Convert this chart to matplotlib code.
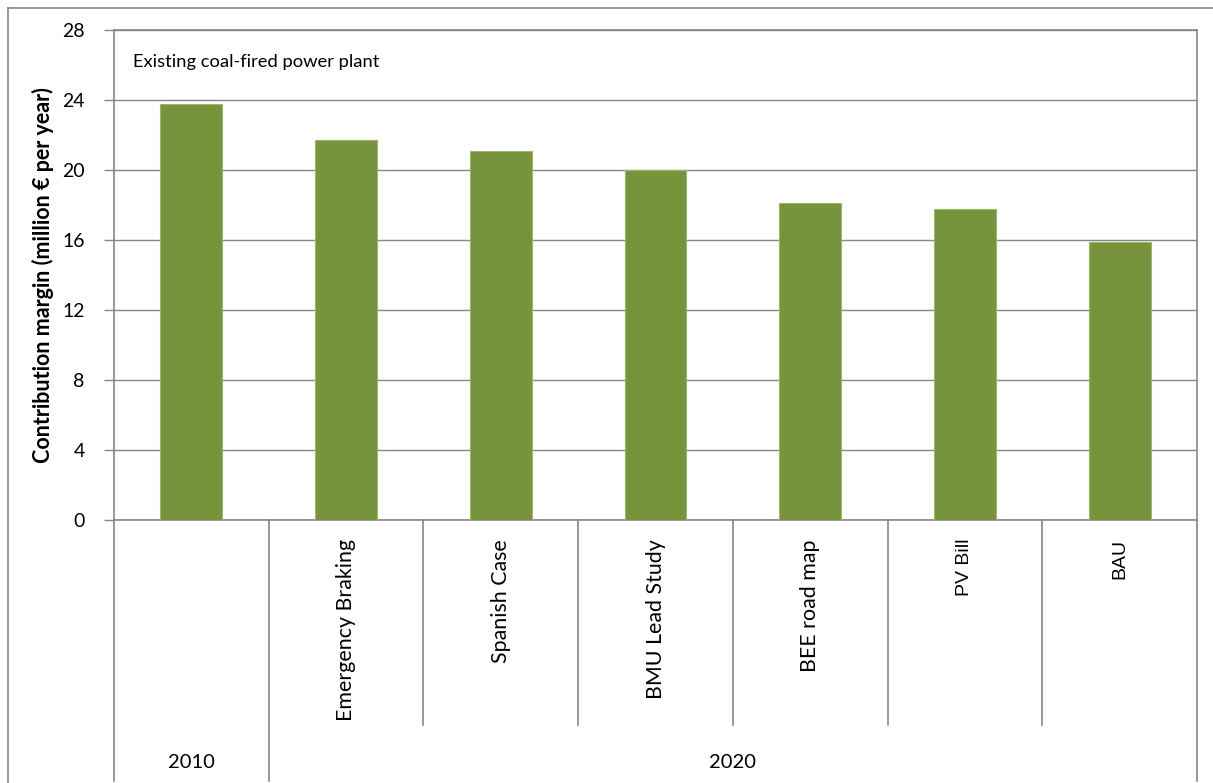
import matplotlib.pyplot as plt
from matplotlib.lines import Line2D

# Data
scenarios = ["", "Emergency Braking", "Spanish Case", "BMU Lead Study",
             "BEE road map", "PV Bill", "BAU"]
years = ["2010", "2020"]
year_span = [(0, 0), (1, 6)]  # first and last category index of each year
margin = [23.8, 21.7, 21.1, 20.0, 18.1, 17.8, 15.9]
yticks = [0, 4, 8, 12, 16, 20, 24, 28]

grey = "#868686"
bar_color = "#77933C"
font = "Lato"
arial_like = ["PV Bill", "BAU"]

fig = plt.figure(figsize=(12.13, 7.83), dpi=100)
W, H = 1213, 783
ax = fig.add_axes([114 / W, 1 - 520 / H, (1197 - 114) / W, (520 - 30) / H])

x = list(range(len(margin)))
ax.bar(x, margin, width=0.4, color=bar_color, edgecolor="#9BB86A",
       linewidth=0.8, zorder=3)

ax.set_xlim(-0.5, len(margin) - 0.5)
ax.set_ylim(0, 28)
ax.set_yticks(yticks)
ax.set_yticklabels([str(t) for t in yticks], fontsize=14, family=font)
ax.tick_params(axis="y", length=7, color=grey, width=1, pad=14)
ax.set_xticks([])
ax.grid(axis="y", color=grey, linewidth=1, zorder=0)
for s in ax.spines.values():
    s.set_color(grey)
    s.set_linewidth(1.2)

ax.set_ylabel("Contribution margin (million € per year)", fontsize=15.5,
              fontweight="bold", family=font, labelpad=6)

ax.text(0.018, 0.935, "Existing coal-fired power plant", transform=ax.transAxes,
        fontsize=13.2, family=font, va="center", ha="left")

# multi-level category axis
trans = ax.get_xaxis_transform()
inner_bottom = (520 - 725) / 490
outer_bottom = (520 - 781) / 490
n = len(margin)
for i in range(n + 1):
    xb = i - 0.5
    full = i in (0, n) or any(xb == a - 0.5 for a, b in year_span)
    ax.add_line(Line2D([xb, xb], [0, outer_bottom if full else inner_bottom],
                       transform=trans, color=grey, linewidth=1.2, clip_on=False))

for i, lab in enumerate(scenarios):
    if lab:
        if lab in arial_like:
            fam, size = "Liberation Sans", 14
        else:
            fam, size = font, 15.4
        ax.text(i, (520 - 539) / 490, lab, transform=trans, rotation=90,
                ha="center", va="top", fontsize=size, family=fam)

for lab, (a, b) in zip(years, year_span):
    ax.text((a + b) / 2, (520 - 763) / 490, lab, transform=trans,
            ha="center", va="center", fontsize=14.5, family=font)

# outer chart border
fig.add_artist(Line2D([8 / W, 8 / W], [0, 1 - 8 / H], transform=fig.transFigure,
                      color=grey, linewidth=1.2))
fig.add_artist(Line2D([8 / W, 1], [1 - 8 / H, 1 - 8 / H], transform=fig.transFigure,
                      color=grey, linewidth=1.2))

fig.savefig("out.png", dpi=100)
